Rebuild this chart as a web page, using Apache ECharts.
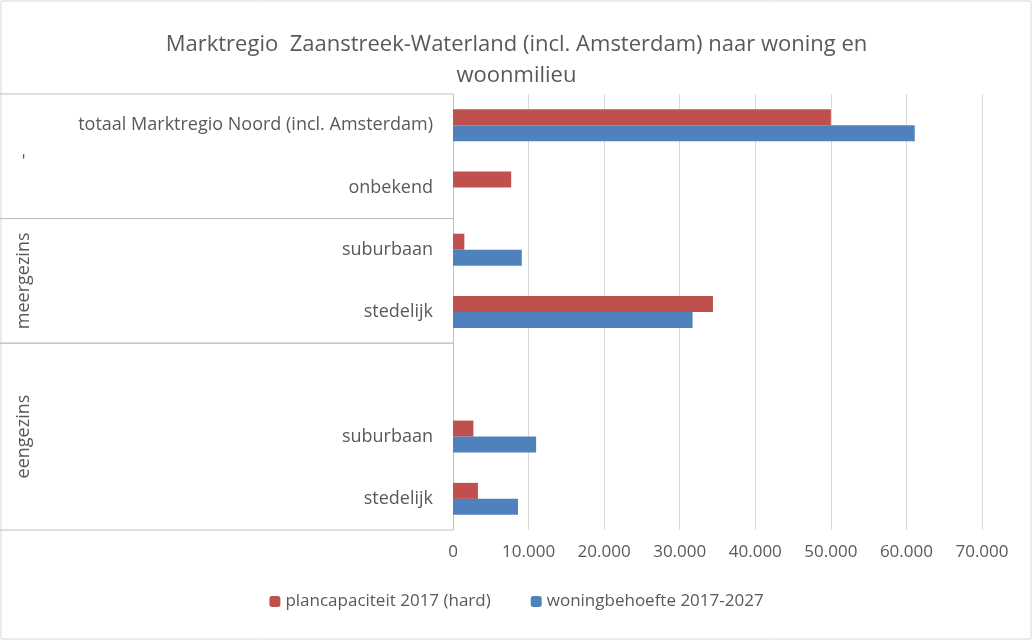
<!DOCTYPE html>
<html><head><meta charset="utf-8">
<script src="https://cdn.jsdelivr.net/npm/echarts@6/dist/echarts.min.js"></script>
<style>html,body{margin:0;padding:0;background:#fff}#c{width:1033px;height:641px}</style>
</head><body><div id="c"></div>
<script>
// categories bottom -> top
const categories = ['stedelijk', 'suburbaan', '', 'stedelijk', 'suburbaan', 'onbekend', 'totaal Marktregio Noord (incl. Amsterdam)']
const groups = [
    { name: 'eengezins', from: 0, to: 2 },
    { name: 'meergezins', from: 3, to: 4 },
    { name: '-', from: 5, to: 6 }
]
const plancapaciteit = [3300, 2700, null, 34400, 1500, 7700, 50000]
const woningbehoefte = [8600, 11000, null, 31700, 9100, null, 61100]
const txt = '#595959'
const font = 'Open Sans'

const chart = echarts.init(document.getElementById('c'))
const option = {
    animation: false,
    title: {
        text: 'Marktregio  Zaanstreek-Waterland (incl. Amsterdam) naar woning en\nwoonmilieu',
        left: 'center', top: 24,
        textStyle: { fontFamily: font, fontSize: 22, fontWeight: 'normal', color: txt, lineHeight: 31 }
    },
    legend: {
        data: ['plancapaciteit 2017 (hard)', 'woningbehoefte 2017-2027'],
        bottom: 26, itemWidth: 11, itemHeight: 11, itemGap: 40,
        textStyle: { fontFamily: font, fontSize: 17, color: txt }
    },
    grid: { left: 453, right: 51, top: 94, bottom: 111 },
    xAxis: {
        type: 'value', min: 0, max: 70000, interval: 10000,
        axisLabel: {
            fontFamily: font, fontSize: 17, color: txt, margin: 14,
            formatter: v => v === 0 ? '0' : String(v).replace(/\B(?=(\d{3})+(?!\d))/g, '.')
        },
        splitLine: { lineStyle: { color: '#d9d9d9' } },
        axisLine: { show: false }
    },
    yAxis: {
        type: 'category', data: categories,
        axisTick: { show: false },
        axisLine: { lineStyle: { color: '#bfbfbf' } },
        axisLabel: { fontFamily: font, fontSize: 18, color: txt, margin: 20 }
    },
    series: [
        { name: 'plancapaciteit 2017 (hard)', type: 'bar', data: plancapaciteit, barWidth: 16, barGap: '0%', itemStyle: { color: '#C0504D' } },
        { name: 'woningbehoefte 2017-2027', type: 'bar', data: woningbehoefte, barWidth: 16, itemStyle: { color: '#4F81BD' } }
    ]
}
chart.setOption(option)

// group labels and separator lines on the category axis
const half = (chart.convertToPixel({ yAxisIndex: 0 }, 0) - chart.convertToPixel({ yAxisIndex: 0 }, 1)) / 2
const elems = [{
    type: 'rect', shape: { x: 1, y: 1, width: 1030, height: 638 },
    style: { fill: null, stroke: '#d9d9d9', lineWidth: 1 }
}]
groups.forEach(g => {
    const yTop = chart.convertToPixel({ yAxisIndex: 0 }, g.to) - half
    const yBot = chart.convertToPixel({ yAxisIndex: 0 }, g.from) + half
    elems.push({ type: 'line', shape: { x1: 0, y1: yTop, x2: 453, y2: yTop }, style: { stroke: '#bfbfbf' } })
    elems.push({ type: 'line', shape: { x1: 0, y1: yBot, x2: 453, y2: yBot }, style: { stroke: '#bfbfbf' } })
    elems.push({
        type: 'text', x: 24, y: (yTop + yBot) / 2, rotation: Math.PI / 2,
        style: { text: g.name, fill: txt, font: '18px "Open Sans"', align: 'center', verticalAlign: 'middle' }
    })
})
chart.setOption({ graphic: elems })
</script></body></html>
